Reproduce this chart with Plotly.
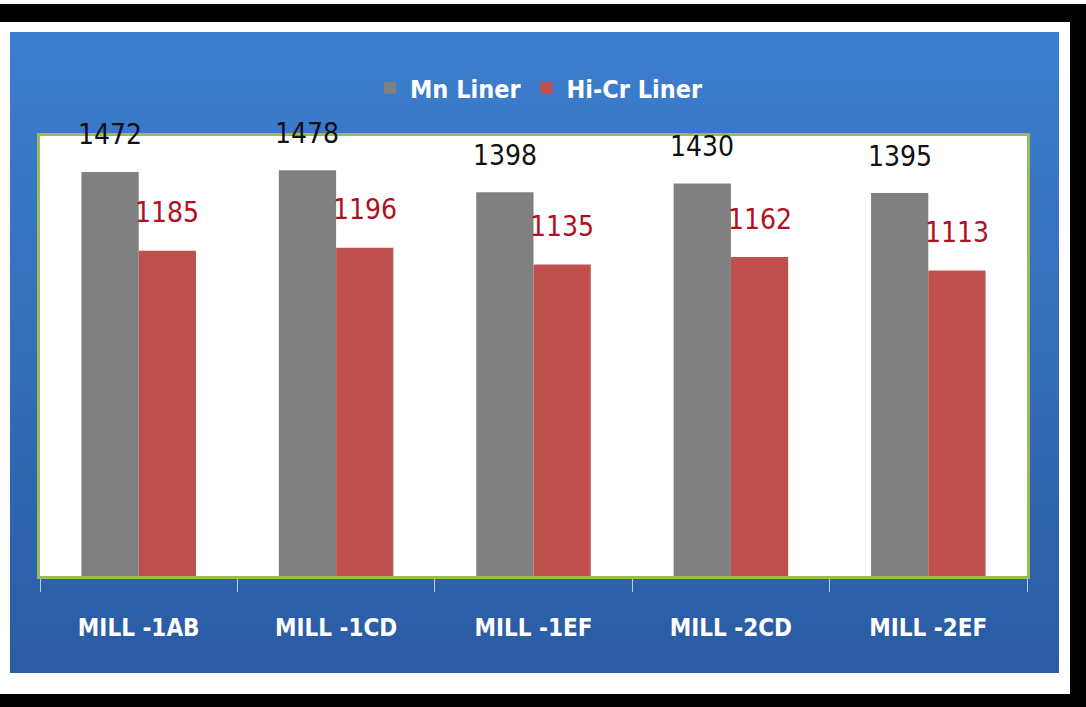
import plotly.graph_objects as go

# --- chart data ---
mills = ["MILL -1AB", "MILL -1CD", "MILL -1EF", "MILL -2CD", "MILL -2EF"]
mn_liner = [1472, 1478, 1398, 1430, 1395]
hicr_liner = [1185, 1196, 1135, 1162, 1113]
series_names = ["Mn Liner", "Hi-Cr Liner"]

# --- page geometry (pixels) ---
W, H = 1086, 707
PL, PR, PT, PB = 40, 1027, 136, 576  # plot area edges
BAR_GAP = 0.42

NARROW = "DejaVu Sans Condensed, Liberation Sans Narrow, sans-serif"

GRAY = "#808080"
RED = "#c0504d"
GREEN = "#9bbb59"


def px_x(x):
    return (x - PL) / (PR - PL)


def px_y(y):
    return (PB - y) / (PB - PT)


def rect(x0, y0, x1, y1, color):
    return dict(type="rect", xref="paper", yref="paper", layer="below",
                x0=px_x(x0), x1=px_x(x1), y0=px_y(y1), y1=px_y(y0),
                fillcolor=color, line=dict(width=0))


def mix(c0, c1, t):
    return "rgb(%d,%d,%d)" % tuple(round(a + (b - a) * t) for a, b in zip(c0, c1))


shapes = []
# white frame inside the black page
shapes.append(rect(0, 0, W, 4, "white"))
shapes.append(rect(0, 22, 1070, 694, "white"))

# vertical blue gradient panel: each band runs to the bottom so that the
# next band covers it without seams
top_c, bot_c = (60, 126, 206), (43, 92, 164)
g_top, g_bot, n = 32, 673, 64
step = (g_bot - g_top) / n
for i in range(n):
    y0 = g_top + i * step
    shapes.append(rect(10, y0, 1059, g_bot, mix(top_c, bot_c, i / (n - 1))))

# white plot area over the gradient
shapes.append(rect(PL, PT, PR, PB, "white"))

fig = go.Figure()
fig.add_bar(x=mills, y=mn_liner, name=series_names[0], marker_color=GRAY,
            marker_line_width=0)
fig.add_bar(x=mills, y=hicr_liner, name=series_names[1], marker_color=RED,
            marker_line_width=0)

# value labels above each bar
half = (1 - BAR_GAP) / 4
annotations = []
for i, (a, b) in enumerate(zip(mn_liner, hicr_liner)):
    annotations.append(dict(x=i - half, y=a, xref="x", yref="y", text=str(a),
                            showarrow=False, yshift=37,
                            font=dict(family=NARROW, size=28, color="#111111")))
    annotations.append(dict(x=i + half, y=b, xref="x", yref="y", text=str(b),
                            showarrow=False, yshift=38,
                            font=dict(family=NARROW, size=28, color="#b01020")))

fig.update_layout(
    width=W, height=H,
    margin=dict(l=PL, r=W - PR, t=PT, b=H - PB, pad=0),
    paper_bgcolor="black",
    plot_bgcolor="white",
    barmode="group",
    bargap=BAR_GAP,
    bargroupgap=0,
    shapes=shapes,
    annotations=annotations,
    showlegend=True,
    legend=dict(orientation="h", x=0.506, xanchor="center", y=px_y(88),
                yanchor="middle", bgcolor="rgba(0,0,0,0)",
                font=dict(family=NARROW, size=25, color="white", weight="bold"),
                itemwidth=30, traceorder="normal"),
    xaxis=dict(
        showline=True, mirror=True, linecolor=GREEN, linewidth=3,
        showgrid=False, zeroline=False,
        ticks="outside", tickson="boundaries", ticklen=13, tickwidth=1,
        tickcolor="#b8cfee", ticklabelstandoff=28,
        tickfont=dict(family=NARROW, size=24, color="white", weight="bold"),
        range=[-0.5, len(mills) - 0.5],
    ),
    yaxis=dict(
        showline=True, mirror=True, linecolor=GREEN, linewidth=3,
        showgrid=False, zeroline=False, showticklabels=False, ticks="",
        range=[0, 1603],
    ),
)

fig.write_html("out.html")
